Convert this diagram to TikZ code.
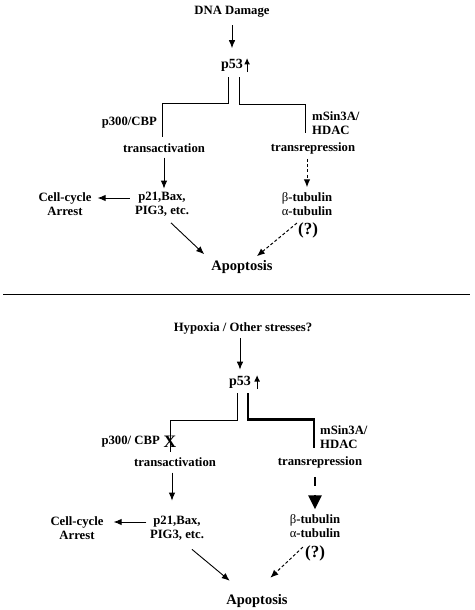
\documentclass[tikz,border=0pt]{standalone}
\usepackage{fontspec}
\setmainfont{Liberation Serif}
\usetikzlibrary{arrows.meta,calc}
\begin{document}
\begin{tikzpicture}[x=1pt,y=-1pt,
  lbl/.style={font=\fontsize{12.7}{14}\selectfont\bfseries, inner sep=0pt, align=center},
  big/.style={lbl, font=\fontsize{14}{16}\selectfont\bfseries},
  apo/.style={lbl, font=\fontsize{14.5}{16}\selectfont\bfseries},
  qm/.style={lbl, font=\fontsize{17}{19}\selectfont\bfseries},
  crossmark/.style={lbl, font=\fontsize{17.5}{17.5}\selectfont\bfseries},
  link/.style={line width=0.8pt},
  heavy/.style={line width=2.6pt},
  arr/.style={line width=0.9pt, -{Latex[length=8pt,width=6.5pt]}},
  darr/.style={arr, line width=1pt, dash pattern=on 3pt off 2.2pt},
  uparr/.style={line width=1.1pt, -{Latex[length=6.5pt,width=6pt]}},
  heavyarr/.style={line width=2.6pt, dash pattern=on 9pt off 9pt, -{Triangle[length=14pt,width=13pt]}},
]
\useasboundingbox (0,0) rectangle (474,610);

% ---------- top panel ----------
\node[lbl] (dna) at (232,12) {DNA Damage};
\node[big] (p53a) at (232,65) {p53};
\draw[uparr] ($(p53a.east)+(4,7)$) -- ($(p53a.east)+(4,-7)$);
\draw[arr] ($(dna.south)+(0,7.5)$) -- ($(p53a.north)+(0,-10.5)$);

\node[lbl, anchor=east] (cbp) at (157,123) {p300/CBP};
\node[lbl, anchor=west, align=left] (msin) at (312,123) {mSin3A/\\HDAC};
\node[lbl] (tact) at (164,148) {transactivation};
\node[lbl] (trep) at (313,148) {transrepression};
\node[lbl] (p21) at (162,204) {p21,Bax,\\PIG3, etc.};
\node[lbl] (cca) at (65,204) {Cell-cycle\\Arrest};
\node[lbl] (beta) at (307,204) {{\mdseries β}-tubulin\\{\mdseries α}-tubulin};
\node[qm] (q) at (308,230) {(?)};
\node[apo] (apo) at (242,267) {Apoptosis};

\draw[link] ($(p53a.south)+(-4,6)$) -- ++(0,26) -| ($(tact.north)+(-2,-6)$);
\draw[link] ($(p53a.south)+(7,6)$) -- ++(0,27) -| ($(trep.north)+(-8,-9)$);

\draw[arr] ($(tact.south)+(0,5)$) -- ($(p21.north -| tact.south)+(0,-3)$);
\draw[arr] ($(p21.west)+(-5,-6)$) -- ($(cca.east)+(6,-6)$);
\draw[arr] ($(p21.south)+(9,6.5)$) -- ($(apo.north west)+(-7,-6)$);
\draw[darr] ($(trep.south -| beta.north)+(0,5)$) -- ($(beta.north)+(0,-5)$);
\draw[darr] ($(q.north west)+(-1,1)$) -- ($(apo.north east)+(-16,-4)$);

% ---------- separator ----------
\draw[link] (3,294) -- (470,294);

% ---------- bottom panel ----------
\node[lbl] (hyp) at (243,328) {Hypoxia / Other stresses?};
\node[big] (p53b) at (240,382) {p53};
\draw[uparr] ($(p53b.east)+(6,7)$) -- ($(p53b.east)+(6,-7)$);
\draw[arr] ($(hyp.south -| p53b.north)+(0,4.5)$) -- ($(p53b.north)+(0,-6)$);

\node[lbl, anchor=east] (cbp2) at (160,442) {p300/ CBP};
\node[lbl, anchor=west, align=left] (msin2) at (320,437) {mSin3A/\\HDAC};
\node[lbl] (tact2) at (175,462) {transactivation};
\node[lbl] (trep2) at (320,462) {transrepression};
\node[lbl] (p21b) at (177,528) {p21,Bax,\\PIG3, etc.};
\node[lbl] (ccb) at (77,528) {Cell-cycle\\Arrest};
\node[lbl] (beta2) at (315,526) {{\mdseries β}-tubulin\\{\mdseries α}-tubulin};
\node[qm] (q2) at (315,553) {(?)};
\node[apo] (apo2) at (257,601) {Apoptosis};

\draw[link] ($(p53b.south)+(-3,5)$) -- ++(0,27) -| ($(tact2.north)+(-5,-5)$);
\node[crossmark] (block) at (170,442) {X};
\draw[heavy] ($(p53b.south)+(8,5)$) -- ++(0,26) -| ($(trep2.north -| beta2.north)+(-1,-8)$);

\draw[arr] ($(tact2.south)+(-3,6)$) -- ($(p21b.north)+(-5,-15)$);
\draw[arr] ($(p21b.west)+(-3.5,-6)$) -- ($(ccb.east)+(10,-6)$);
\draw[arr] ($(p21b.south)+(15,9)$) -- ($(apo2.north west)+(3.5,-13.5)$);
\draw[heavyarr] ($(trep2.south -| beta2.north)+(0,9)$) -- ($(beta2.north)+(0,-5)$);
\draw[darr] ($(q2.north west)+(-2,2)$) -- ($(apo2.north east)+(-17.5,-16.5)$);
\end{tikzpicture}
\end{document}
